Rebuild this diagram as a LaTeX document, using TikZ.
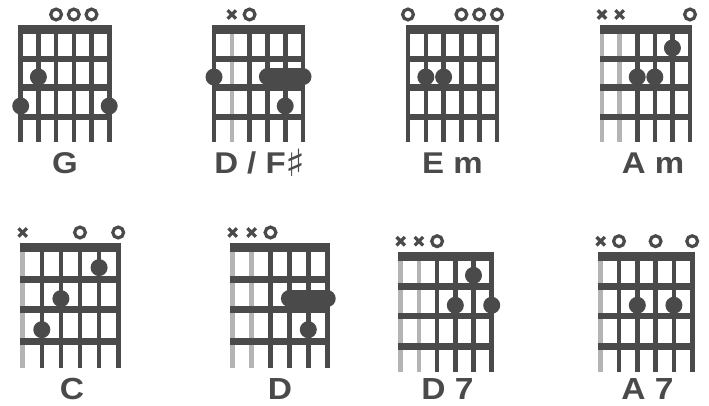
\documentclass[tikz,border=0pt]{standalone}
\usepackage{fontspec}
\setmainfont{Liberation Sans}
\newfontfamily\lblfont{Liberation Sans}
\newfontfamily\symfont{DejaVu Sans}
\definecolor{ink}{HTML}{4A4A4A}
\definecolor{mute}{HTML}{B4B4B4}
\newcommand\cgrid[3]{%
  \def\gdx{#1}\def\gsy{#2}%
  \pgfmathsetmacro\gfw{6.6*#2}%
  \foreach \i in {0,...,5} \draw[ink,line width=4.6pt] (\i*\gdx,0) -- (\i*\gdx,117*\gsy);
  \if\relax\detokenize{#3}\relax\else
  \foreach \i in {#3} \draw[mute,line width=4.6pt] ({(\i-1)*\gdx},0) -- ({(\i-1)*\gdx},117*\gsy);
  \fi
  \fill[ink] (-2.3,0) rectangle ({5*\gdx+2.3},{8.8*\gsy});
  \foreach \f in {34,62.5,92} \draw[ink,line width=\gfw pt] (-2.3,\f*\gsy) -- ({5*\gdx+2.3},\f*\gsy);
}
\newcommand\fdot[2]{\fill[ink] ({(#1-1)*\gdx},{(23+(#2-1)*29)*\gsy}) circle (8.5pt);}
\newcommand\fbarre[3]{\draw[ink,line width=17pt,line cap=round] ({(#1-1)*\gdx},{(23+(#3-1)*29)*\gsy}) -- ({(#2-1)*\gdx},{(23+(#3-1)*29)*\gsy});}
\newcommand\omark[1]{\draw[ink,line width=3.2pt] ({(#1-1)*\gdx},-10.5) circle (5.4pt);}
\newcommand\mutemark[1]{\draw[ink,line width=3.2pt] ({(#1-1)*\gdx-4.2},-14.7) -- ({(#1-1)*\gdx+4.2},-6.3) ({(#1-1)*\gdx-4.2},-6.3) -- ({(#1-1)*\gdx+4.2},-14.7);}
\tikzset{
  lbl/.style={font=\lblfont\bfseries\fontsize{30}{30}\selectfont, text=ink, inner sep=0pt, anchor=base},
  lblb/.style={lbl, font=\lblfont\bfseries\fontsize{30.5}{30.5}\selectfont}
}
\begin{document}
\begin{tikzpicture}[x=1pt,y=-1pt]
\useasboundingbox[fill=white] (0,0) rectangle (709,406);
% G
\begin{scope}[shift={(20.7,25)}]
  \cgrid{17.7}{1}{}
  \omark{3}\omark{4}\omark{5}
  \fdot{2}{2}\fdot{1}{3}\fdot{6}{3}
\end{scope}
% D/F#
\begin{scope}[shift={(214,25)}]
  \cgrid{17.8}{1}{2}
  \mutemark{2}\omark{3}
  \fdot{1}{2}\fbarre{4}{6}{2}\fdot{5}{3}
\end{scope}
% Em
\begin{scope}[shift={(408,25)}]
  \cgrid{17.8}{1}{}
  \omark{1}\omark{4}\omark{5}\omark{6}
  \fdot{2}{2}\fdot{3}{2}
\end{scope}
% Am
\begin{scope}[shift={(602,25)}]
  \cgrid{17.6}{1}{1,2}
  \mutemark{1}\mutemark{2}\omark{6}
  \fdot{5}{1}\fdot{3}{2}\fdot{4}{2}
\end{scope}
% C
\begin{scope}[shift={(22.7,243)}]
  \cgrid{19.1}{1.07}{1}
  \mutemark{1}\omark{4}\omark{6}
  \fdot{5}{1}\fdot{3}{2}\fdot{2}{3}
\end{scope}
% D
\begin{scope}[shift={(232.7,243)}]
  \cgrid{18.9}{1.07}{1,2}
  \mutemark{1}\mutemark{2}\omark{3}
  \fbarre{4}{6}{2}\fdot{5}{3}
\end{scope}
% D7
\begin{scope}[shift={(400.7,251.7)}]
  \cgrid{18.2}{1.03}{1,2}
  \mutemark{1}\mutemark{2}\omark{3}
  \fdot{5}{1}\fdot{4}{2}\fdot{6}{2}
\end{scope}
% A7
\begin{scope}[shift={(600.7,251.7)}]
  \cgrid{18.3}{1.03}{1}
  \mutemark{1}\omark{2}\omark{4}\omark{6}
  \fdot{3}{2}\fdot{5}{2}
\end{scope}
% labels
\node[lbl] (lG) at (65,174) {\scalebox{1.1}[1]{G}};
\node[lbl] (lDF) at (260,174) {\scalebox{1.1}[1]{D / F{\symfont\mdseries\raisebox{-2.5pt}{\scalebox{1.25}{♯}}}}};
\node[lbl] (lEm) at (452.5,174) {\scalebox{1.1}[1]{E m}};
\node[lbl] (lAm) at (653,174) {\scalebox{1.1}[1]{A m}};
\node[lblb] (lC) at (72,399) {\scalebox{1.1}[1]{C}};
\node[lblb] (lD) at (280,399) {\scalebox{1.1}[1]{D}};
\node[lblb] (lD7) at (447.5,399.5) {\scalebox{1.1}[1]{D 7}};
\node[lblb] (lA7) at (647.5,399.5) {\scalebox{1.1}[1]{A 7}};
\end{tikzpicture}
\end{document}
